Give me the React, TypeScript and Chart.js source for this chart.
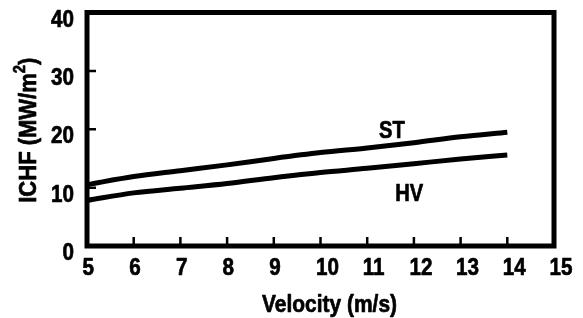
import React, { useEffect, useRef } from "react";
import { Chart, registerables } from "chart.js";

Chart.register(...registerables);

const velocity = [5, 6, 7, 8, 9, 10, 11, 12, 13, 14];
const stValues = [10.5, 11.9, 12.9, 13.9, 15.0, 16.0, 16.8, 17.7, 18.7, 19.5];
const hvValues = [7.8, 9.1, 9.9, 10.7, 11.7, 12.6, 13.3, 14.1, 14.9, 15.6];
const xTickValues = [5, 6, 7, 8, 9, 10, 11, 12, 13, 14, 15];
const yTickValues = [0, 10, 20, 30, 40];
const seriesNames = ["ST", "HV"];
const seriesLabelAt = [
  { x: 11.53, y: 19.9 },
  { x: 11.9, y: 9.2 },
];
const xTitle = "Velocity (m/s)";
const yTitleMain = "ICHF (MW/m";
const yTitleSup = "2";
const yTitleEnd = ")";

const FAMILY = '"Liberation Sans", Arial, sans-serif';
const font = (size: number) => `bold ${size}px ${FAMILY}`;
const SX = 0.86; // condensed look
const EMBOLDEN = 0.7;

function drawScaled(
  ctx: CanvasRenderingContext2D,
  text: string,
  x: number,
  y: number,
  size: number,
  sx: number,
  align: CanvasTextAlign,
  baseline: CanvasTextBaseline
) {
  ctx.save();
  ctx.font = font(size);
  ctx.textAlign = align;
  ctx.textBaseline = baseline;
  ctx.translate(x, y);
  ctx.scale(sx, 1);
  ctx.fillText(text, 0, 0);
  ctx.lineWidth = EMBOLDEN;
  ctx.lineJoin = "round";
  ctx.strokeText(text, 0, 0);
  ctx.restore();
}

const framePlugin = {
  id: "frame",
  afterDatasetsDraw(chart: any) {
    const { ctx, chartArea } = chart;
    const xs = chart.scales.x;
    const ys = chart.scales.y;
    const { left, right, top, bottom } = chartArea;
    ctx.save();
    ctx.strokeStyle = "#000";
    ctx.fillStyle = "#000";
    // frame
    ctx.lineWidth = 5;
    ctx.strokeRect(left, top, right - left, bottom - top);
    // inward ticks
    ctx.lineWidth = 2.5;
    ctx.beginPath();
    xTickValues.slice(1, -1).forEach((v) => {
      const px = xs.getPixelForValue(v);
      ctx.moveTo(px, bottom - 2);
      ctx.lineTo(px, bottom - 9);
    });
    yTickValues.slice(1, -1).forEach((v) => {
      const py = ys.getPixelForValue(v);
      ctx.moveTo(left + 2, py);
      ctx.lineTo(left + 9, py);
    });
    ctx.stroke();
    // tick labels
    xTickValues.forEach((v) => {
      drawScaled(ctx, String(v), xs.getPixelForValue(v) - 4.5, bottom + 29, 24, SX, "left", "alphabetic");
    });
    yTickValues.forEach((v) => {
      drawScaled(ctx, String(v), left - 13, ys.getPixelForValue(v) + 14, 24, SX, "right", "alphabetic");
    });
    // series labels
    seriesNames.forEach((name, i) => {
      const p = seriesLabelAt[i];
      drawScaled(ctx, name, xs.getPixelForValue(p.x), ys.getPixelForValue(p.y) + 8.5, 24, 0.84, "center", "alphabetic");
    });
    // x title
    ctx.font = font(24);
    const wx = ctx.measureText(xTitle).width;
    drawScaled(ctx, xTitle, (left + right) / 2 + 9, 312, 24, 135 / wx, "center", "alphabetic");
    // y title rotated
    ctx.save();
    ctx.translate(36, (top + bottom) / 2 + 1);
    ctx.rotate(-Math.PI / 2);
    ctx.font = font(24);
    const w1 = ctx.measureText(yTitleMain).width;
    const w3 = ctx.measureText(yTitleEnd).width;
    ctx.font = font(16);
    const w2 = ctx.measureText(yTitleSup).width;
    const total = w1 + w2 + w3;
    const s = 145 / total;
    ctx.scale(s, 1);
    const x0 = -total / 2;
    ctx.textAlign = "left";
    ctx.textBaseline = "alphabetic";
    ctx.lineWidth = EMBOLDEN;
    ctx.lineJoin = "round";
    ctx.font = font(24);
    ctx.fillText(yTitleMain, x0, 0);
    ctx.strokeText(yTitleMain, x0, 0);
    ctx.font = font(16);
    ctx.fillText(yTitleSup, x0 + w1, -11);
    ctx.strokeText(yTitleSup, x0 + w1, -11);
    ctx.font = font(24);
    ctx.fillText(yTitleEnd, x0 + w1 + w2, 0);
    ctx.strokeText(yTitleEnd, x0 + w1 + w2, 0);
    ctx.restore();
    ctx.restore();
  },
};

export default function App() {
  const ref = useRef<HTMLCanvasElement | null>(null);
  useEffect(() => {
    if (!ref.current) return;
    const chart = new Chart(ref.current, {
      type: "line",
      data: {
        datasets: [
          {
            label: seriesNames[0],
            data: velocity.map((v, i) => ({ x: v, y: stValues[i] })),
            borderColor: "#000",
            borderWidth: 5,
            pointRadius: 0,
            cubicInterpolationMode: "monotone",
            fill: false,
          },
          {
            label: seriesNames[1],
            data: velocity.map((v, i) => ({ x: v, y: hvValues[i] })),
            borderColor: "#000",
            borderWidth: 5,
            pointRadius: 0,
            cubicInterpolationMode: "monotone",
            fill: false,
          },
        ],
      },
      options: {
        animation: false,
        responsive: false,
        layout: { padding: { top: 12.5, right: 29, left: 0, bottom: 0 } },
        plugins: { legend: { display: false }, tooltip: { enabled: false } },
        scales: {
          x: {
            type: "linear",
            min: 5,
            max: 15,
            grid: { display: false, drawTicks: false },
            border: { display: false },
            ticks: { display: false },
            afterFit: (s: any) => {
              s.height = 318 - 246;
              s.paddingLeft = 0;
              s.paddingRight = 0;
            },
            afterBuildTicks: (s: any) => {
              s.ticks = xTickValues.map((v) => ({ value: v }));
            },
          },
          y: {
            type: "linear",
            min: 0,
            max: 40,
            grid: { display: false, drawTicks: false },
            border: { display: false },
            ticks: { display: false },
            afterFit: (s: any) => {
              s.width = 87;
              s.paddingTop = 0;
              s.paddingBottom = 0;
            },
            afterBuildTicks: (s: any) => {
              s.ticks = yTickValues.map((v) => ({ value: v }));
            },
          },
        },
      },
      plugins: [framePlugin],
    });
    return () => chart.destroy();
  }, []);
  return (
    <div style={{ position: "absolute", left: 0, top: 0, width: 583, height: 318 }}>
      <canvas ref={ref} width={583} height={318} />
    </div>
  );
}
